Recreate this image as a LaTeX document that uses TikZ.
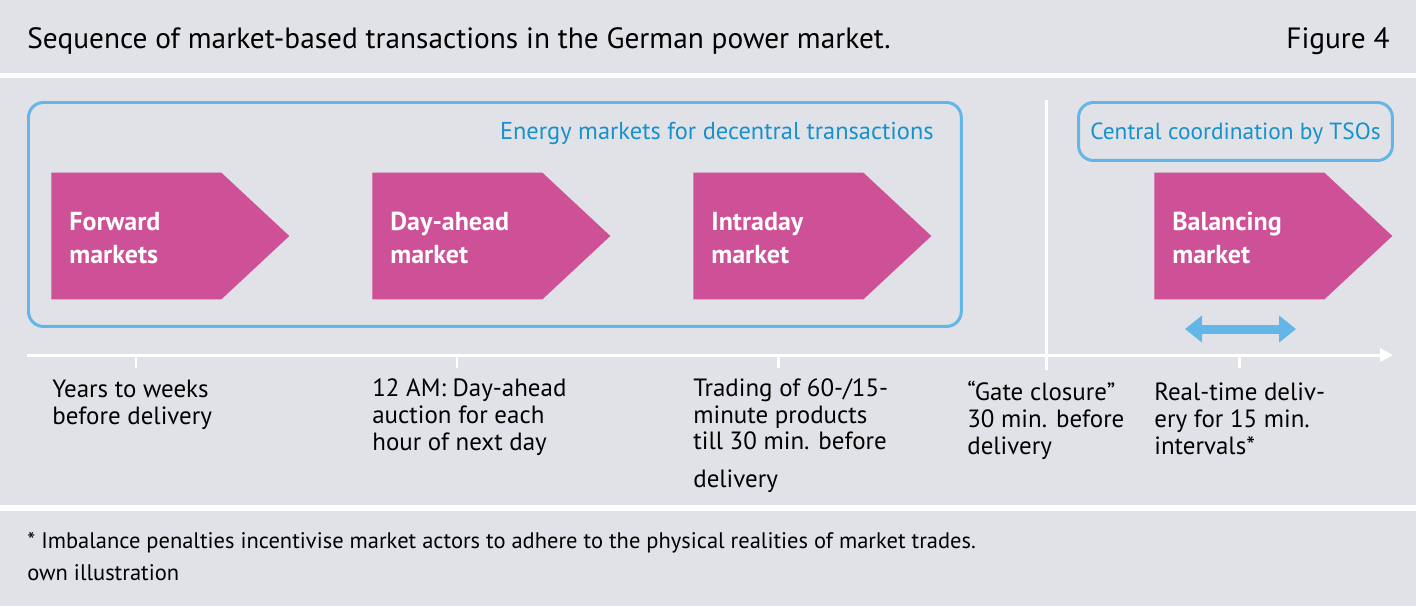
\documentclass[tikz,border=0pt]{standalone}
\usepackage{fontspec}
\setmainfont{PT Sans}
\usepackage{xcolor}
\usetikzlibrary{shapes.symbols, arrows.meta, positioning, calc}
\definecolor{bggrey}{RGB}{225, 226, 231}
\definecolor{mktpink}{RGB}{206, 80, 150}
\definecolor{boxblue}{RGB}{99, 182, 232}
\definecolor{txtblue}{RGB}{22, 145, 204}

\begin{document}
\begin{tikzpicture}[x=0.02cm, y=-0.02cm,
    mkt/.style={signal, signal to=east, signal pointer angle=86, fill=mktpink, draw=none, minimum width=4.76cm, minimum height=2.54cm, inner sep=0pt, anchor=west},
    mkttxt/.style={font=\fontsize{14.8}{18.8}\selectfont\bfseries, text=white, align=left, inner sep=0pt, anchor=west},
    grp/.style={draw=boxblue, line width=1.7pt, rounded corners=0.3cm, inner sep=0pt, anchor=north west},
    grplbl/.style={font=\fontsize{13.9}{16}\selectfont, text=txtblue, inner sep=0pt},
    note/.style={font=\fontsize{14.2}{15.2}\selectfont, align=left, inner sep=0pt, anchor=base west},
    tickln/.style={white, line width=1.7pt},
    axis/.style={white, line width=1.7pt, -{Triangle[length=0.26cm, width=0.26cm]}},
    span/.style={boxblue, line width=0.18cm, {Triangle[length=0.34cm, width=0.52cm]}-{Triangle[length=0.34cm, width=0.52cm]}}
]
\useasboundingbox (0,0) rectangle (1416,606);

% ── Bands ──
\fill[white] (0,0) rectangle (1416,606);
\fill[bggrey] (0,0) rectangle (1416,72.5);
\fill[bggrey] (0,78) rectangle (1416,505);
\fill[bggrey] (0,511) rectangle (1416,606);

% ── Title ──
\node[font=\fontsize{16.7}{18}\selectfont, inner sep=0pt, anchor=base west] (title) at (27,48) {Sequence of market-based transactions in the German power market.};
\node[font=\fontsize{16.7}{18}\selectfont, inner sep=0pt, anchor=base east] (fig) at (1390,48) {Figure 4};

% ── Groups ──
\node[grp, minimum width=18.66cm, minimum height=4.48cm] (emk) at (27,101) {};
\node[grplbl, anchor=east] (emklbl) at (934,133) {Energy markets for decentral transactions};
\node[grp, minimum width=6.28cm, minimum height=1.16cm] (tso) at (1077,101) {};
\node[grplbl, font=\fontsize{13.3}{16}\selectfont] (tsolbl) at ($(tso.center)+(0,2)$) {Central coordination by TSOs};

% Gate closure divider
\coordinate (gtop) at (1046,100);
\coordinate (gbot) at (1046,370);
\draw[tickln] (gtop) -- (gbot);

% ── Markets ──
\node[mkt] (fwd) at (51,236) {};
\node[mkttxt] (fwdtxt) at ($(fwd.west)+(18,2)$) {Forward\\markets};
\node[mkt] (dah) at (372,236) {};
\node[mkttxt] (dahtxt) at ($(dah.west)+(18,2)$) {Day-ahead\\market};
\node[mkt] (itd) at (693,236) {};
\node[mkttxt] (itdtxt) at ($(itd.west)+(18,2)$) {Intraday\\market};
\node[mkt] (bal) at (1154,236) {};
\node[mkttxt] (baltxt) at ($(bal.west)+(18,2)$) {Balancing\\market};

% Delivery interval
\coordinate (dl) at (1185,329);
\coordinate (dr) at (1296,329);
\draw[span] (dl) -- (dr);

% ── Time axis ──
\coordinate (t0) at (27,355);
\coordinate (t1) at (1393,355);
\draw[axis] (t0) -- (t1);
\foreach \x in {136, 457, 778, 1239}
    \draw[tickln] (\x,355) -- (\x,368);

% ── Notes (anchored at last baseline) ──
\node[note] (n1) at (52,424) {Years to weeks\\before delivery};
\node[note] (n2) at (372,450) {12 AM: Day-ahead\\auction for each\\hour of next day};
\node[note] (n3) at (693,487) {Trading of 60-/15-\\minute products\\till 30 min. before\\[6pt]delivery};
\node[note] (n4) at (967,454) {``Gate closure''\\30 min. before\\delivery};
\node[note] (n5) at (1154,454) {Real-time deliv-\\ery for 15 min.\\intervals*};

% ── Footer ──
\node[font=\fontsize{12.8}{18.2}\selectfont, align=left, inner sep=0pt, anchor=base west] (foot) at (27,580) {* Imbalance penalties incentivise market actors to adhere to the physical realities of market trades.\\own illustration};

\end{tikzpicture}
\end{document}
